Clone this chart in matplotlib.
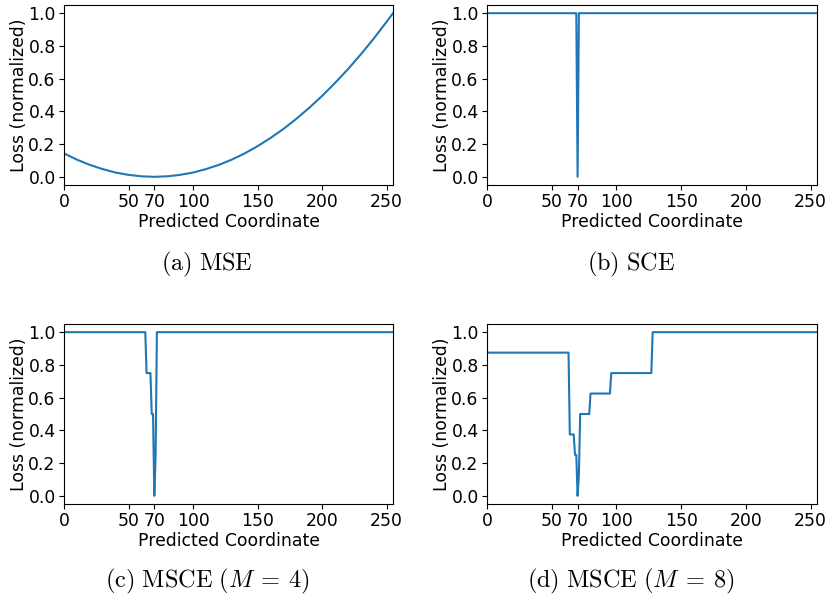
import numpy as np
import matplotlib
matplotlib.use("Agg")
import matplotlib.pyplot as plt

# values (target coordinate 70, range 0..255)
mse_x = [0, 10, 20, 30, 40, 50, 60, 70, 80, 90, 100, 110, 120, 130, 140,
         150, 160, 170, 180, 190, 200, 210, 220, 230, 240, 250, 255]
mse_y = [0.143, 0.105, 0.073, 0.047, 0.026, 0.012, 0.003, 0.0, 0.003, 0.012,
         0.026, 0.047, 0.073, 0.105, 0.143, 0.187, 0.237, 0.292, 0.354, 0.421,
         0.494, 0.573, 0.657, 0.748, 0.844, 0.947, 1.0]

sce_x = [0, 69, 70, 71, 255]
sce_y = [1.0, 1.0, 0.0, 1.0, 1.0]

msce4_x = [0, 63, 64, 67, 68, 69, 70, 71, 72, 255]
msce4_y = [1.0, 1.0, 0.75, 0.75, 0.5, 0.5, 0.0, 0.25, 1.0, 1.0]

msce8_x = [0, 63, 64, 67, 68, 69, 70, 71, 72, 79, 80, 95, 96, 127, 128, 255]
msce8_y = [0.875, 0.875, 0.375, 0.375, 0.25, 0.25, 0.0, 0.125, 0.5, 0.5,
           0.625, 0.625, 0.75, 0.75, 1.0, 1.0]

captions = [r"$\mathrm{(a)\ MSE}$", r"$\mathrm{(b)\ SCE}$",
            r"$\mathrm{(c)\ MSCE}\ (M\:=\:4)$", r"$\mathrm{(d)\ MSCE}\ (M\:=\:8)$"]
xticks = [0, 50, 70, 100, 150, 200, 250]

plt.rcParams["mathtext.fontset"] = "cm"
plt.rcParams["font.size"] = 12.4

W, H = 827, 597
fig = plt.figure(figsize=(W / 100, H / 100), dpi=100)

series = [(mse_x, mse_y), (sce_x, sce_y), (msce4_x, msce4_y), (msce8_x, msce8_y)]
# axes boxes in pixels: left, top, right, bottom
boxes = [(64, 5, 393, 185), (487, 5, 817, 185),
         (64, 324, 393, 504), (487, 324, 817, 504)]
cap_pos = [(207, 264), (631, 264), (207, 581), (631, 581)]

for (xs, ys), (l, t, r, b), cap, (cx, cy) in zip(series, boxes, captions, cap_pos):
    ax = fig.add_axes([l / W, 1 - b / H, (r - l) / W, (b - t) / H])
    ax.plot(xs, ys, color="#1f77b4", lw=1.5)
    ax.set_xlim(0, 255)
    ax.set_ylim(-0.05, 1.05)
    ax.set_xticks(xticks)
    ax.set_yticks([0.0, 0.2, 0.4, 0.6, 0.8, 1.0])
    ax.tick_params(pad=2.5)
    ax.set_xlabel("Predicted Coordinate", labelpad=1)
    ax.set_ylabel("Loss (normalized)", labelpad=0)
    fig.text(cx / W, 1 - cy / H, cap, ha="center", va="center", fontsize=17.5)

fig.savefig("out.png", dpi=100)
